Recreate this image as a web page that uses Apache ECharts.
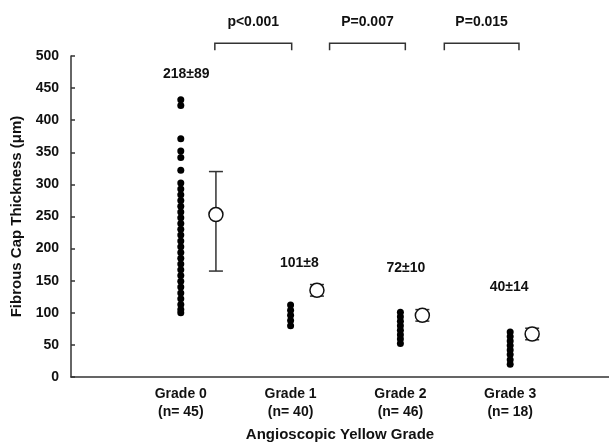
<!DOCTYPE html>
<html>
<head>
<meta charset="utf-8">
<script src="https://cdn.jsdelivr.net/npm/echarts@6/dist/echarts.min.js"></script>
<style>
  html, body { margin: 0; padding: 0; background: #fff; }
  #Chart { width: 609px; height: 447px; }
</style>
</head>
<body>
<div id="Chart"></div>
<script>
var Chart = echarts.init(document.getElementById('Chart'));

// data
var grades = ['Grade 0', 'Grade 1', 'Grade 2', 'Grade 3'];
var counts = [45, 40, 46, 18];
var grade0Vals = [432, 423, 371, 352, 342, 322, 302, 293, 284, 275, 266, 257, 248, 239, 230, 221, 212, 203, 194, 185, 176, 167, 158, 149, 140, 131, 122, 113, 105, 100];
var grade1Vals = [112, 104, 96, 88, 80];
var grade2Vals = [101, 94, 87, 80, 73, 66, 59, 52];
var grade3Vals = [70, 63, 56, 49, 42, 35, 27, 20];
var meanX = [0.32, 1.24, 2.2, 3.2];
var meanVals = [253, 135, 96, 67];
var errLow = [165, 126, 87, 58];
var errHigh = [320, 144, 105, 76];
var statText = ['218±89', '101±8', '72±10', '40±14'];
var statPos = [[0.05, 472], [1.08, 177], [2.05, 170], [2.99, 140]];
var pText = ['p<0.001', 'P=0.007', 'P=0.015'];
var pBrackets = [[0.31, 1.01], [1.355, 2.045], [2.4, 3.08]];
var bracketTop = 520, bracketFoot = 509, pLabelY = 552;

var fontFam = 'Liberation Sans, Arial, sans-serif';
var ink = '#111';

var allVals = [grade0Vals, grade1Vals, grade2Vals, grade3Vals];
var dots = [];
allVals.forEach(function (vals, i) {
    vals.forEach(function (v) { dots.push([i, v]); });
});

var means = meanX.map(function (x, i) { return [x, meanVals[i], errLow[i], errHigh[i]]; });

var bracketData = pBrackets.map(function (b, i) {
    return [b[0], b[1], (b[0] + b[1]) / 2, i];
});

var textLabel = {
    show: true, position: 'inside', formatter: '{b}',
    fontFamily: fontFam, fontWeight: 'bold', fontSize: 14, color: ink, opacity: 1
};

var option = {
    backgroundColor: '#fff',
    animation: false,
    grid: { left: 71, top: 56, right: 0, height: 324 },
    xAxis: {
        type: 'value',
        min: -1,
        max: 3.9,
        interval: 1,
        name: 'Angioscopic Yellow Grade',
        nameLocation: 'middle',
        nameGap: 50,
        nameTextStyle: { fontFamily: fontFam, fontWeight: 'bold', fontSize: 15, color: ink },
        axisLine: { show: true, onZero: false, lineStyle: { color: '#333', width: 1.5 } },
        axisTick: { show: false },
        splitLine: { show: false },
        axisLabel: {
            margin: 8,
            lineHeight: 18,
            showMaxLabel: false,
            fontFamily: fontFam,
            fontWeight: 'bold',
            fontSize: 14,
            color: ink,
            formatter: function (v) {
                if (v < 0 || v > 3 || Math.round(v) !== v) return '';
                return grades[v] + '\n(n= ' + counts[v] + ')';
            }
        }
    },
    yAxis: {
        type: 'value',
        min: 0,
        max: 500,
        interval: 50,
        name: 'Fibrous Cap Thickness (μm)',
        nameLocation: 'middle',
        nameGap: 47,
        nameTextStyle: { fontFamily: fontFam, fontWeight: 'bold', fontSize: 15, color: ink },
        axisLine: { show: true, onZero: false, lineStyle: { color: '#333', width: 1.5 } },
        axisTick: { show: true, inside: true, length: 4, lineStyle: { color: '#333', width: 1.5 } },
        splitLine: { show: false },
        axisLabel: { margin: 12, fontFamily: fontFam, fontWeight: 'bold', fontSize: 14, color: ink }
    },
    series: [
        {
            type: 'scatter',
            data: dots,
            symbol: 'circle',
            symbolSize: 7,
            itemStyle: { color: '#000', opacity: 1 },
            z: 3
        },
        {
            type: 'custom',
            data: means,
            z: 2,
            renderItem: function (params, api) {
                var x = api.value(0);
                var lo = api.coord([x, api.value(2)]);
                var hi = api.coord([x, api.value(3)]);
                var cw = 7;
                var style = { stroke: '#333', lineWidth: 1.5 };
                return {
                    type: 'group',
                    children: [
                        { type: 'line', shape: { x1: lo[0], y1: lo[1], x2: hi[0], y2: hi[1] }, style: style },
                        { type: 'line', shape: { x1: lo[0] - cw, y1: lo[1], x2: lo[0] + cw, y2: lo[1] }, style: style },
                        { type: 'line', shape: { x1: hi[0] - cw, y1: hi[1], x2: hi[0] + cw, y2: hi[1] }, style: style }
                    ]
                };
            }
        },
        {
            type: 'scatter',
            data: means.map(function (m) { return [m[0], m[1]]; }),
            symbol: 'circle',
            symbolSize: 14,
            itemStyle: { color: '#fff', borderColor: '#111', borderWidth: 1.5, opacity: 1 },
            z: 4
        },
        {
            type: 'custom',
            data: bracketData,
            clip: false,
            renderItem: function (params, api) {
                var a = api.coord([api.value(0), bracketFoot]);
                var b = api.coord([api.value(0), bracketTop]);
                var c = api.coord([api.value(1), bracketTop]);
                var d = api.coord([api.value(1), bracketFoot]);
                return {
                    type: 'polyline',
                    shape: { points: [a, b, c, d] },
                    style: { stroke: '#333', lineWidth: 1.5, fill: null }
                };
            }
        },
        {
            type: 'scatter',
            clip: false,
            symbolSize: 0,
            itemStyle: { opacity: 1 },
            data: pText.map(function (t, i) {
                return { value: [(pBrackets[i][0] + pBrackets[i][1]) / 2, pLabelY], name: t };
            }),
            label: textLabel
        },
        {
            type: 'scatter',
            clip: false,
            symbolSize: 0,
            itemStyle: { opacity: 1 },
            data: statText.map(function (t, i) {
                return { value: statPos[i], name: t };
            }),
            label: textLabel
        }
    ]
};

Chart.setOption(option);

window.addEventListener('resize', function () {
    Chart.resize();
});
</script>
</body>
</html>
